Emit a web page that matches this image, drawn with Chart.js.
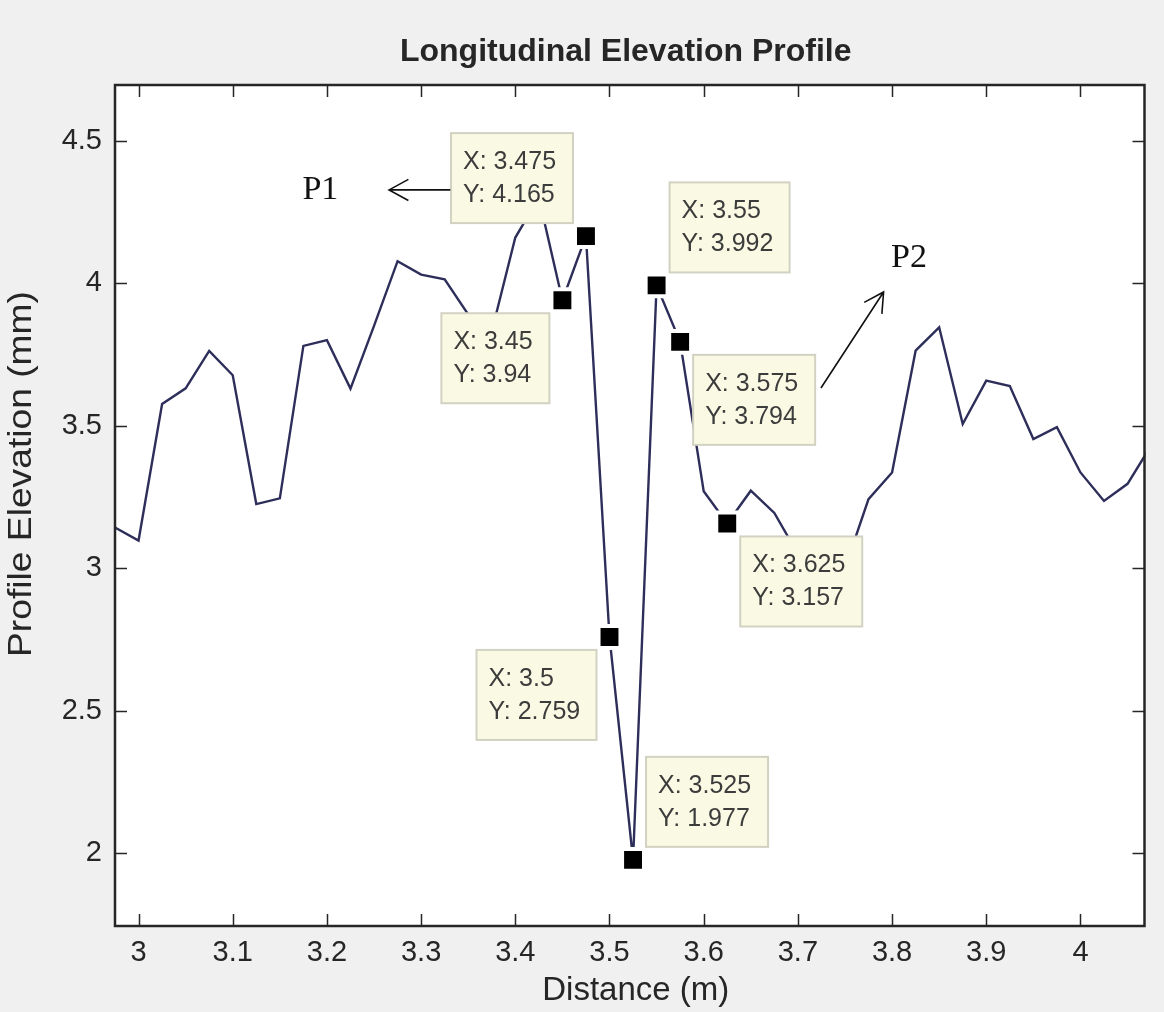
<!DOCTYPE html>
<html>
<head>
<meta charset="utf-8">
<title>Longitudinal Elevation Profile</title>
<script src="https://cdn.jsdelivr.net/npm/chart.js@4.4.1/dist/chart.umd.min.js"></script>
<style>
  html, body { margin: 0; padding: 0; background: #f0f0f0; }
  #wrap { width: 1164px; height: 1012px; }
  canvas { display: block; }
</style>
</head>
<body>
<div id="wrap"><canvas id="chart" width="1164" height="1012"></canvas></div>
<script>
// ── Data ────────────────────────────────────────────────────────────────────
const distance = [
  2.975, 3.000, 3.025, 3.050, 3.075, 3.100, 3.125, 3.150, 3.175, 3.200,
  3.225, 3.250, 3.275, 3.300, 3.325, 3.350, 3.375, 3.400, 3.425, 3.450,
  3.475, 3.500, 3.525, 3.550, 3.575, 3.600, 3.625, 3.650, 3.675, 3.700,
  3.725, 3.750, 3.775, 3.800, 3.825, 3.850, 3.875, 3.900, 3.925, 3.950,
  3.975, 4.000, 4.025, 4.050, 4.075
];
const elevation = [
  3.143, 3.097, 3.576, 3.631, 3.762, 3.677, 3.225, 3.245, 3.780, 3.800,
  3.630, 3.850, 4.077, 4.030, 4.013, 3.890, 3.830, 4.160, 4.300, 3.940,
  4.165, 2.759, 1.977, 3.992, 3.794, 3.270, 3.157, 3.272, 3.194, 3.050,
  3.000, 3.000, 3.242, 3.336, 3.763, 3.845, 3.506, 3.658, 3.639, 3.453,
  3.495, 3.336, 3.236, 3.296, 3.430
];

// data tips
const tipX = [3.45, 3.475, 3.5, 3.525, 3.55, 3.575, 3.625];
const tipY = [3.94, 4.165, 2.759, 1.977, 3.992, 3.794, 3.157];

const xTicks      = [3, 3.1, 3.2, 3.3, 3.4, 3.5, 3.6, 3.7, 3.8, 3.9, 4];
const xTickLabels = ['3', '3.1', '3.2', '3.3', '3.4', '3.5', '3.6', '3.7', '3.8', '3.9', '4'];
const yTicks      = [2, 2.5, 3, 3.5, 4, 4.5];
const yTickLabels = ['2', '2.5', '3', '3.5', '4', '4.5'];

// ── Look ────────────────────────────────────────────────────────────────────
const SANS  = "'Liberation Sans', Arial, sans-serif";
const SERIF = "'Liberation Serif', 'Times New Roman', serif";
const INK   = '#262626';

// where each tip box sits relative to its marker
const tipSide = ['sw', 'nw', 'sw', 'ne', 'ne', 'se', 'se'];

// hand-drawn notes, in data units
const notes = [
  { text: 'P1', tx: 3.193, ty: 4.327, from: [3.331, 4.327], to: [3.266, 4.327] },
  { text: 'P2', tx: 3.818, ty: 4.088, from: [3.7245, 3.632], to: [3.791, 3.969] }
];

// ── Plugins ─────────────────────────────────────────────────────────────────
const backdrop = {
  id: 'backdrop',
  beforeDraw(chart) {
    const { ctx, chartArea: a } = chart;
    ctx.save();
    ctx.fillStyle = '#f0f0f0';
    ctx.fillRect(0, 0, chart.width, chart.height);
    ctx.fillStyle = '#ffffff';
    ctx.fillRect(a.left, a.top, a.right - a.left, a.bottom - a.top);
    ctx.fillStyle = INK;
    ctx.textAlign = 'center';
    ctx.textBaseline = 'middle';
    // title, centred over the axes
    ctx.font = `bold 32px ${SANS}`;
    ctx.fillText('Longitudinal Elevation Profile', (a.left + a.right) / 2 - 4, 52);
    // axis labels (drawn by hand so the stretched look of the original fits)
    ctx.font = `33px ${SANS}`;
    ctx.fillText('Distance (m)', (a.left + a.right) / 2 + 6, 991);
    ctx.translate(22, 474);
    ctx.rotate(-Math.PI / 2);
    const w = ctx.measureText('Profile Elevation (mm)').width;
    ctx.scale(366 / w, 1);
    ctx.fillText('Profile Elevation (mm)', 0, 0);
    ctx.restore();
  }
};

// box frame with inward ticks on all four sides (MATLAB style)
const frame = {
  id: 'frame',
  afterDatasetsDraw(chart) {
    const { ctx, chartArea: a, scales: { x, y } } = chart;
    const len = 12;
    ctx.save();
    ctx.strokeStyle = INK;
    ctx.lineWidth = 1.5;
    ctx.beginPath();
    xTicks.forEach(v => {
      const px = Math.round(x.getPixelForValue(v)) + 0.5;
      ctx.moveTo(px, a.bottom); ctx.lineTo(px, a.bottom - len);
      ctx.moveTo(px, a.top);    ctx.lineTo(px, a.top + len);
    });
    yTicks.forEach(v => {
      const py = Math.round(y.getPixelForValue(v)) + 0.5;
      ctx.moveTo(a.left, py);  ctx.lineTo(a.left + len, py);
      ctx.moveTo(a.right, py); ctx.lineTo(a.right - len, py);
    });
    ctx.stroke();
    ctx.lineWidth = 2.5;
    ctx.strokeRect(a.left, a.top, a.right - a.left, a.bottom - a.top);
    ctx.restore();
  }
};

const dataTips = {
  id: 'dataTips',
  afterDraw(chart) {
    const { ctx, scales: { x, y } } = chart;
    const gap = 13, padX = 14, h = 90;
    ctx.save();
    ctx.font = `25px ${SANS}`;
    ctx.textBaseline = 'middle';
    ctx.textAlign = 'left';
    tipX.forEach((xv, i) => {
      const px = x.getPixelForValue(xv);
      const py = y.getPixelForValue(tipY[i]);
      const l1 = 'X: ' + xv, l2 = 'Y: ' + tipY[i];
      const w = Math.ceil(Math.max(ctx.measureText(l1).width, ctx.measureText(l2).width)) + padX * 2;
      const side = tipSide[i];
      const bx = side.includes('w') ? px - gap - w : px + gap;
      const by = side.includes('n') ? py - gap - h : py + gap;
      ctx.fillStyle = '#fafae4';
      ctx.fillRect(bx, by, w, h);
      ctx.strokeStyle = '#d2d2c2';
      ctx.lineWidth = 2;
      ctx.strokeRect(bx, by, w, h);
      ctx.fillStyle = '#3c3c3c';
      ctx.fillText(l1, bx + padX - 2, by + 29);
      ctx.fillText(l2, bx + padX - 2, by + 62);
    });

    // P1 / P2 notes with open arrow heads
    notes.forEach(n => {
      const x0 = x.getPixelForValue(n.from[0]), y0 = y.getPixelForValue(n.from[1]);
      const x1 = x.getPixelForValue(n.to[0]),   y1 = y.getPixelForValue(n.to[1]);
      const ang = Math.atan2(y1 - y0, x1 - x0), head = 22, spread = 0.5;
      ctx.strokeStyle = '#111';
      ctx.lineWidth = 1.6;
      ctx.beginPath();
      ctx.moveTo(x0, y0); ctx.lineTo(x1, y1);
      ctx.moveTo(x1 - head * Math.cos(ang - spread), y1 - head * Math.sin(ang - spread));
      ctx.lineTo(x1, y1);
      ctx.lineTo(x1 - head * Math.cos(ang + spread), y1 - head * Math.sin(ang + spread));
      ctx.stroke();
      ctx.fillStyle = '#111';
      ctx.font = `34px ${SERIF}`;
      ctx.textAlign = 'center';
      ctx.fillText(n.text, x.getPixelForValue(n.tx), y.getPixelForValue(n.ty));
      ctx.font = `25px ${SANS}`;
      ctx.textAlign = 'left';
    });
    ctx.restore();
  }
};

// ── Chart ───────────────────────────────────────────────────────────────────
new Chart(document.getElementById('chart'), {
  type: 'line',
  data: {
    datasets: [
      {
        label: 'Profile',
        data: distance.map((d, i) => ({ x: d, y: elevation[i] })),
        borderColor: '#2e2e5a',
        borderWidth: 2.4,
        pointRadius: 0,
        tension: 0,
        clip: 1,
        order: 2
      },
      {
        label: 'Data tips',
        data: tipX.map((d, i) => ({ x: d, y: tipY[i] })),
        showLine: false,
        pointStyle: 'rect',
        pointRadius: 15.5,
        pointBackgroundColor: '#000',
        pointBorderColor: '#fff',
        pointBorderWidth: 4,
        clip: false,
        order: 1
      }
    ]
  },
  options: {
    responsive: false,
    animation: false,
    devicePixelRatio: 1,
    events: [],
    layout: { padding: { top: 85, right: 18, left: 0, bottom: 0 } },
    plugins: { legend: { display: false }, tooltip: { enabled: false }, title: { display: false } },
    scales: {
      x: {
        type: 'linear',
        min: 2.975,
        max: 4.068,
        afterBuildTicks: s => { s.ticks = xTicks.map(v => ({ value: v })); },
        afterFit: s => { s.height = 86; },
        grid: { display: false, drawTicks: false },
        border: { display: false },
        ticks: {
          padding: 10, autoSkip: false, maxRotation: 0, color: INK,
          font: { family: SANS, size: 29 },
          callback: (v, i) => xTickLabels[i]
        }
      },
      y: {
        type: 'linear',
        min: 1.745,
        max: 4.695,
        afterBuildTicks: s => { s.ticks = yTicks.map(v => ({ value: v })); },
        afterFit: s => { s.width = 115; },
        grid: { display: false, drawTicks: false },
        border: { display: false },
        ticks: {
          padding: 13, autoSkip: false, color: INK,
          font: { family: SANS, size: 29 },
          callback: (v, i) => yTickLabels[i]
        }
      }
    }
  },
  plugins: [backdrop, frame, dataTips]
});
</script>
</body>
</html>
